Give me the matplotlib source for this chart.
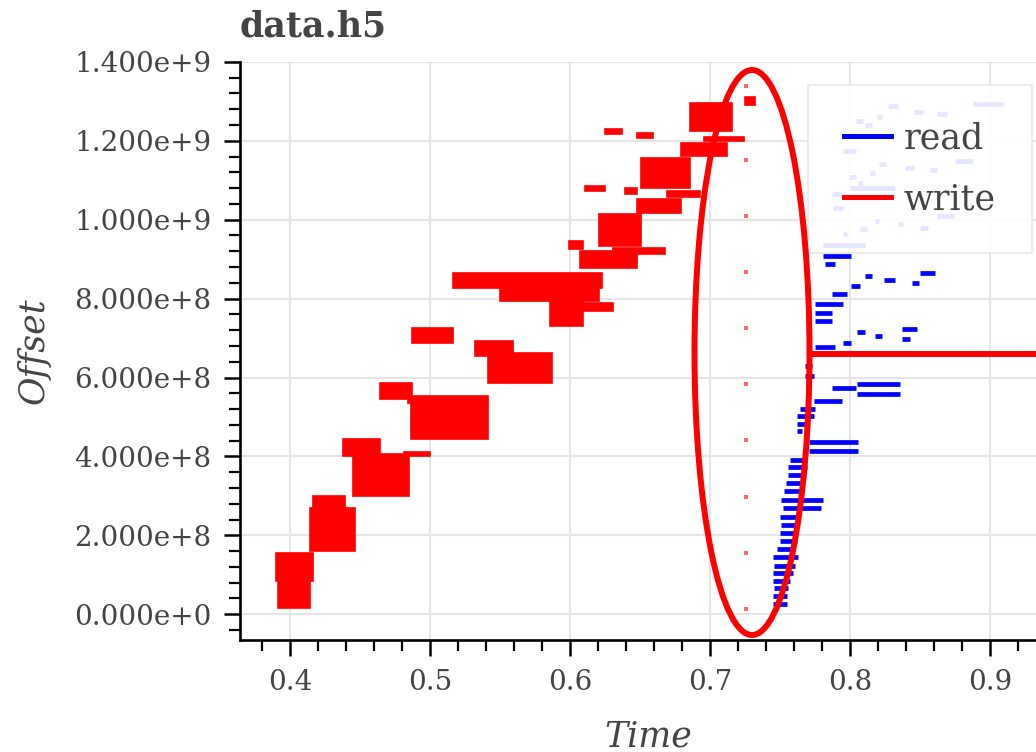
import numpy as np
import matplotlib
matplotlib.use('Agg')
import matplotlib.pyplot as plt
from matplotlib.lines import Line2D
from matplotlib.patches import Ellipse
from matplotlib.ticker import MultipleLocator, FuncFormatter

# =================================================================================
# I/O trace of data.h5: offset of each read / write request against time
# =================================================================================

# Write requests: start time, end time, lowest and highest offset (x 1e8 bytes)
w_start = [0.390, 0.391, 0.414, 0.416, 0.438, 0.445, 0.481, 0.464, 0.486, 0.484,
           0.541, 0.532, 0.487, 0.516, 0.550, 0.586, 0.587, 0.607, 0.631, 0.599,
           0.621, 0.648, 0.669, 0.611, 0.639, 0.651, 0.679, 0.696, 0.625, 0.648,
           0.686, 0.725]
w_end = [0.416, 0.414, 0.446, 0.439, 0.464, 0.485, 0.500, 0.487, 0.541, 0.541,
         0.587, 0.559, 0.516, 0.623, 0.621, 0.609, 0.631, 0.648, 0.668, 0.609,
         0.651, 0.679, 0.693, 0.625, 0.648, 0.686, 0.712, 0.724, 0.637, 0.659,
         0.716, 0.732]
w_lo = [0.84, 0.15, 1.60, 2.69, 4.01, 3.00, 4.01, 5.46, 4.44, 5.36,
        5.86, 6.55, 6.88, 8.27, 7.94, 7.31, 7.69, 8.78, 9.14, 9.26,
        9.34, 10.18, 10.58, 10.74, 10.66, 10.81, 11.62, 12.00, 12.18, 12.08,
        12.26, 12.90]
w_hi = [1.55, 0.84, 2.69, 2.99, 4.44, 4.05, 4.11, 5.86, 5.36, 5.53,
        6.62, 6.93, 7.26, 8.65, 8.27, 7.94, 7.89, 9.21, 9.29, 9.47,
        10.15, 10.53, 10.74, 10.86, 10.81, 11.57, 11.95, 12.10, 12.31, 12.21,
        12.97, 13.12]

# Small metadata writes (time, offset x 1e8)
m_time = [0.7257] * 10
m_off = [13.40, 11.52, 10.10, 8.68, 7.26, 5.84, 4.42, 2.97, 1.55, 0.13]

# Read requests: start time, end time, offset (x 1e8 bytes)
r_start = [0.745, 0.745, 0.746, 0.745, 0.745, 0.746, 0.745, 0.748, 0.750, 0.750,
           0.751, 0.750, 0.752, 0.751, 0.753, 0.754, 0.7557, 0.756, 0.757, 0.771,
           0.771, 0.762, 0.762, 0.762, 0.764, 0.774, 0.787, 0.805, 0.805, 0.768,
           0.768,
           0.775, 0.795, 0.805, 0.818, 0.837, 0.837, 0.775, 0.775, 0.775, 0.787,
           0.801, 0.811, 0.824, 0.844, 0.850, 0.782, 0.781,
           0.781, 0.795, 0.807, 0.818, 0.834, 0.850, 0.862, 0.788, 0.787, 0.800,
           0.806, 0.799, 0.814, 0.821, 0.839, 0.857, 0.875, 0.795, 0.804, 0.811,
           0.819, 0.827, 0.846, 0.862, 0.888]
r_end = [0.755, 0.755, 0.7557, 0.757, 0.759, 0.761, 0.763, 0.761, 0.762, 0.761,
         0.762, 0.762, 0.779, 0.781, 0.764, 0.764, 0.766, 0.769, 0.768, 0.806,
         0.806, 0.766, 0.769, 0.774, 0.775, 0.794, 0.804, 0.836, 0.836, 0.774,
         0.773,
         0.789, 0.801, 0.811, 0.823, 0.848, 0.843, 0.787, 0.787, 0.795, 0.798,
         0.807, 0.816, 0.832, 0.849, 0.861, 0.789, 0.801,
         0.811, 0.798, 0.812, 0.821, 0.838, 0.856, 0.874, 0.795, 0.794, 0.832,
         0.809, 0.804, 0.818, 0.826, 0.846, 0.862, 0.888, 0.804, 0.809, 0.816,
         0.823, 0.834, 0.852, 0.869, 0.909]
r_off = [0.25, 0.46, 0.66, 0.84, 1.04, 1.22, 1.45, 1.65, 1.85, 2.06,
         2.26, 2.46, 2.69, 2.89, 3.12, 3.32, 3.53, 3.73, 3.91, 4.14,
         4.37, 4.64, 4.82, 5.03, 5.20, 5.41, 5.74, 5.84, 5.58, 6.04,
         6.29,
         6.78, 6.88, 7.16, 7.06, 7.23, 6.98, 7.44, 7.64, 7.87, 8.12,
         8.32, 8.58, 8.48, 8.40, 8.65, 8.88, 9.09,
         9.37, 9.64, 9.77, 9.97, 9.90, 9.80, 10.10, 10.30, 10.66, 10.81,
         10.94, 11.07, 11.19, 11.42, 11.32, 11.27, 11.50, 11.75, 12.51, 12.39,
         12.61, 12.87, 12.74, 12.69, 12.94]

scale = 1e8
grey = '#444444'

plt.rcParams['font.family'] = 'DejaVu Serif'

fig = plt.figure(figsize=(10.36, 7.52), dpi=100)
ax = fig.add_axes([240 / 1036, 111.7 / 752, 816 / 1036, 578.8 / 752])

# writes
w_start = np.array(w_start)
w_lo = np.array(w_lo) * scale
ax.bar(w_start, np.array(w_hi) * scale - w_lo, width=np.array(w_end) - w_start,
       bottom=w_lo, align='edge',
       color='#ff0000', edgecolor='#ff0000', linewidth=1.2, zorder=3)
ax.scatter(m_time, np.array(m_off) * scale, marker='s', s=9,
           color='#ff0000', alpha=0.6, linewidths=0, zorder=3)

# reads
ax.hlines(np.array(r_off) * scale, r_start, r_end, colors='#0000ff',
          linewidth=3.4, zorder=3)

# axes
ax.set_xlim(0.3642, 0.9471)
ax.set_ylim(-0.66e8, 1.401e9)
ax.xaxis.set_major_locator(MultipleLocator(0.1))
ax.xaxis.set_minor_locator(MultipleLocator(0.02))
ax.yaxis.set_major_locator(MultipleLocator(2e8))
ax.yaxis.set_minor_locator(MultipleLocator(4e7))


def sci(v, pos):
    mant, exp = f'{v:.3e}'.split('e')
    return f'{mant}e{int(exp):+d}'


ax.yaxis.set_major_formatter(FuncFormatter(sci))
ax.xaxis.set_major_formatter(FuncFormatter(lambda v, pos: f'{v:.1f}'))

for side in ['top', 'right']:
    ax.spines[side].set_visible(False)
for side in ['left', 'bottom']:
    ax.spines[side].set_linewidth(1.9)
ax.tick_params(which='major', direction='out', length=11.5, width=1.8,
               labelsize=20, labelcolor=grey, pad=9)
ax.tick_params(which='minor', direction='out', length=8, width=1.6)
ax.grid(True, which='major', color='#e5e5e5', linewidth=1.6, zorder=0)
ax.set_axisbelow(True)

ax.set_title('data.h5', loc='left', fontsize=25, fontweight='bold',
             color=grey, pad=18)
ax.set_xlabel('Time', fontsize=25, fontstyle='italic', color=grey)
ax.set_ylabel('Offset', fontsize=25, fontstyle='italic', color=grey)
ax.xaxis.set_label_coords(0.5, -0.136)
ax.yaxis.set_label_coords(-0.232, 0.5)

handles = [Line2D([], [], color='#0000ff', linewidth=3.6),
           Line2D([], [], color='#ff0000', linewidth=3.6)]
leg = ax.legend(handles, ['read', 'write'], loc='upper left',
                bbox_to_anchor=(0.696, 0.9594), borderaxespad=0,
                fontsize=25, labelcolor=grey, fancybox=False, framealpha=0.9,
                edgecolor='#e5e5e5', borderpad=1.05, handlelength=1.35,
                handletextpad=0.35, labelspacing=0.78)
leg.get_frame().set_linewidth(1.2)
leg.set_zorder(5)

# highlight around the switch from writing to reading
fig.add_artist(Ellipse((752 / 1036, 1 - 352.5 / 752), 115 / 1036, 565 / 752,
                       transform=fig.transFigure, fill=False,
                       edgecolor='#ff0000', linewidth=4.3, zorder=10))
fig.add_artist(Line2D([810 / 1036, 1.0], [1 - 354 / 752] * 2,
                      transform=fig.transFigure, color='#ff0000',
                      linewidth=4.3, zorder=10))

fig.savefig('out.png', dpi=100)
